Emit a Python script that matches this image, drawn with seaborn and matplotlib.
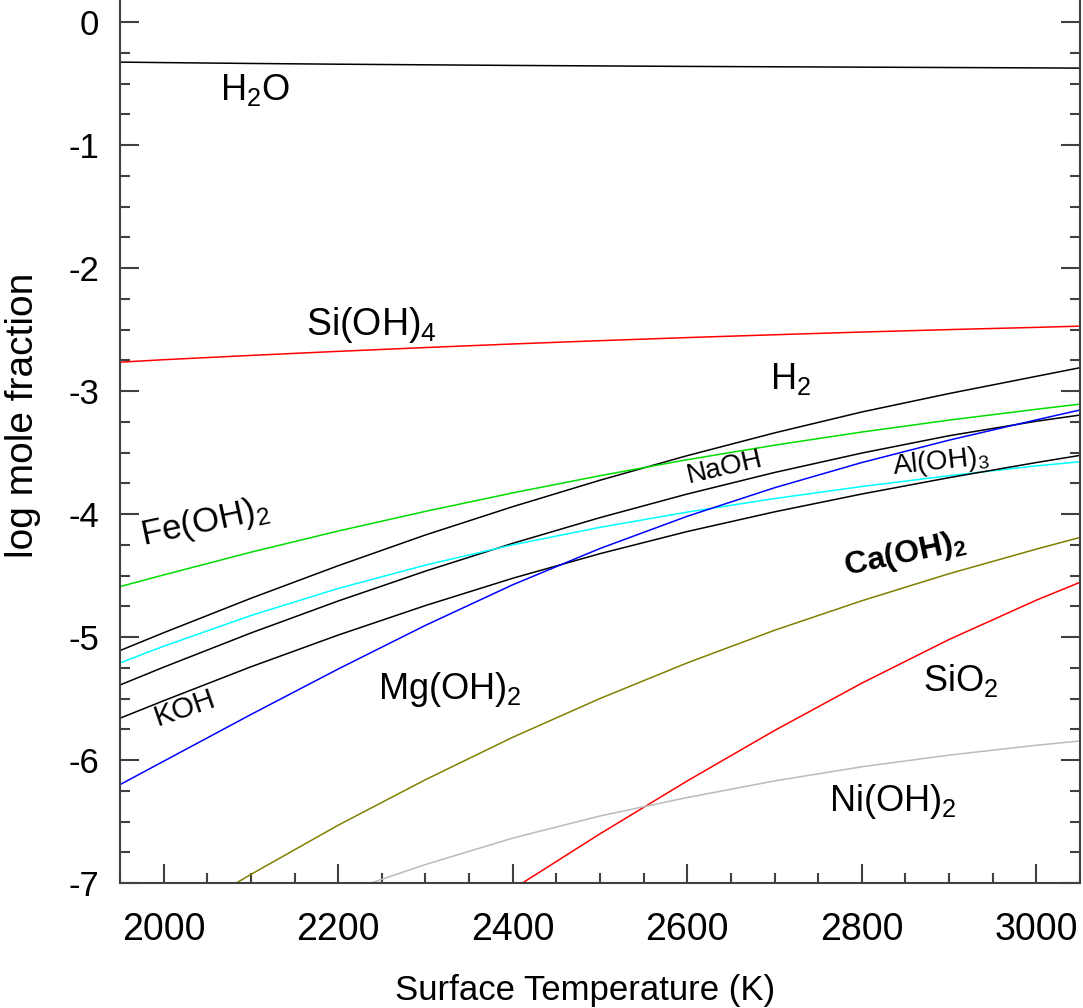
import numpy as np
import pandas as pd
import matplotlib
matplotlib.use("Agg")
import matplotlib.pyplot as plt
from matplotlib.ticker import MultipleLocator
import seaborn as sns

sns.set_style("white")
plt.rcParams['font.family'] = ['Liberation Sans', 'DejaVu Sans']
plt.rcParams['mathtext.default'] = 'regular'
plt.rcParams['axes.unicode_minus'] = False
plt.rcParams['text.color'] = 'black'
plt.rcParams['axes.labelcolor'] = 'black'
plt.rcParams['xtick.labelcolor'] = 'black'
plt.rcParams['ytick.labelcolor'] = 'black'

# log mole fraction vs surface temperature
T_FULL = [1950, 2000, 2100, 2200, 2300, 2400, 2500, 2600, 2700, 2800, 2900, 3000, 3050]
H2O = [-0.325, -0.329, -0.336, -0.342, -0.347, -0.352, -0.356, -0.360, -0.363, -0.366, -0.369, -0.372, -0.374]
SIOH4 = [-2.765, -2.745, -2.71, -2.677, -2.646, -2.617, -2.59, -2.565, -2.542, -2.52, -2.50, -2.482, -2.472]
H2 = [-5.11, -4.965, -4.685, -4.42, -4.17, -3.94, -3.725, -3.525, -3.34, -3.17, -3.02, -2.88, -2.81]
FEOH2 = [-4.59, -4.495, -4.31, -4.138, -3.978, -3.828, -3.688, -3.558, -3.44, -3.333, -3.236, -3.148, -3.106]
NAOH = [-5.39, -5.245, -4.967, -4.707, -4.464, -4.238, -4.029, -3.837, -3.662, -3.504, -3.363, -3.245, -3.195]
ALOH3 = [-5.21, -5.075, -4.825, -4.605, -4.415, -4.25, -4.108, -3.984, -3.874, -3.776, -3.688, -3.608, -3.575]
KOH = [-5.66, -5.518, -5.242, -4.984, -4.744, -4.522, -4.322, -4.142, -3.982, -3.837, -3.704, -3.581, -3.523]
MGOH2 = [-6.20, -6.01, -5.63, -5.26, -4.905, -4.575, -4.28, -4.018, -3.786, -3.581, -3.399, -3.234, -3.154]

T_CA = [2050, 2100, 2200, 2300, 2400, 2500, 2600, 2700, 2800, 2900, 3000, 3050]
CAOH2 = [-7.14, -6.93, -6.53, -6.16, -5.815, -5.50, -5.21, -4.945, -4.705, -4.485, -4.285, -4.19]

T_SIO2 = [2400, 2500, 2600, 2700, 2800, 2900, 3000, 3050]
SIO2 = [-7.05, -6.60, -6.17, -5.76, -5.375, -5.02, -4.70, -4.555]

T_NI = [2200, 2300, 2400, 2500, 2600, 2700, 2800, 2900, 3000, 3050]
NIOH2 = [-7.09, -6.85, -6.635, -6.455, -6.305, -6.17, -6.055, -5.96, -5.88, -5.845]

SERIES = [
    ("H2O", T_FULL, H2O, "black"),
    ("Si(OH)4", T_FULL, SIOH4, "#ff0000"),
    ("H2", T_FULL, H2, "black"),
    ("Fe(OH)2", T_FULL, FEOH2, "#00dd00"),
    ("NaOH", T_FULL, NAOH, "black"),
    ("Al(OH)3", T_FULL, ALOH3, "#00ffff"),
    ("KOH", T_FULL, KOH, "black"),
    ("Mg(OH)2", T_FULL, MGOH2, "#0000ff"),
    ("Ca(OH)2", T_CA, CAOH2, "#808000"),
    ("SiO2", T_SIO2, SIO2, "#ff0000"),
    ("Ni(OH)2", T_NI, NIOH2, "#bbbbbb"),
]

rows = []
for name, temps, vals, _ in SERIES:
    for t, v in zip(temps, vals):
        rows.append({"species": name, "T": t, "logx": v})
df = pd.DataFrame(rows)
palette = {name: col for name, _, _, col in SERIES}

fig = plt.figure(figsize=(10.83, 10.08), dpi=100)
ax = fig.add_axes([120 / 1083, 125 / 1008, 960 / 1083, 883 / 1008])

sns.lineplot(data=df, x="T", y="logx", hue="species", palette=palette,
             units="species", estimator=None, legend=False, lw=1.1, ax=ax)

ax.set_xlim(1950, 3050)
ax.set_ylim(-7, 0.18)

# labels placed next to the curves
labels = [
    ("H$_2$O", 2105, -0.55, 0, 26, "normal"),
    ("Si(OH)$_4$", 2238, -2.46, 0, 27, "normal"),
    ("H$_2$", 2718, -2.90, 0, 26, "normal"),
    ("Fe(OH)$_2$", 2047, -4.07, 12, 25, "normal"),
    ("NaOH", 2643, -3.62, 13, 20, "normal"),
    ("Al(OH)$_3$", 2890, -3.58, 6, 20, "normal"),
    ("KOH", 2024, -5.58, 19, 21, "normal"),
    ("Mg(OH)$_2$", 2328, -5.43, 0, 26, "normal"),
    ("Ca(OH)$_2$", 2850, -4.33, 12, 23, "bold"),
    ("SiO$_2$", 2913, -5.35, 0, 26, "normal"),
    ("Ni(OH)$_2$", 2835, -6.34, 0, 26, "normal"),
]
for txt, tx, ty, rot, fs, fw in labels:
    ax.text(tx, ty, txt, fontsize=fs, fontweight=fw, rotation=rot,
            ha="center", va="center", rotation_mode="anchor")

ax.xaxis.set_major_locator(MultipleLocator(200))
ax.xaxis.set_minor_locator(MultipleLocator(50))
ax.yaxis.set_major_locator(MultipleLocator(1))
ax.yaxis.set_minor_locator(MultipleLocator(0.25))
ax.tick_params(which="both", direction="in", width=1.5, color="#404040",
               left=True, right=True, bottom=True, top=False)
ax.tick_params(which="major", length=14)
ax.tick_params(which="minor", length=7.5)
ax.tick_params(axis="x", labelsize=27, pad=21)
ax.tick_params(axis="y", labelsize=25, pad=15)

for side in ["left", "right", "bottom"]:
    ax.spines[side].set_color("#404040")
    ax.spines[side].set_linewidth(1.5)
ax.spines["top"].set_visible(False)

ax.set_xlabel("Surface Temperature (K)", fontsize=25)
ax.xaxis.set_label_coords(0.484, -0.103)
ax.set_ylabel("log mole fraction", fontsize=28)
ax.yaxis.set_label_coords(-0.082, 0.53)

fig.savefig("out.png", dpi=100)
